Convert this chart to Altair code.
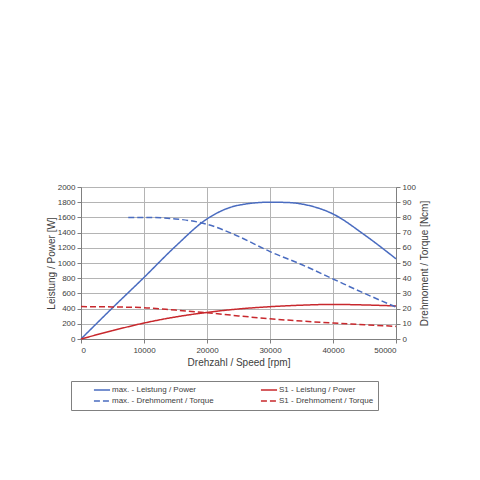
import altair as alt
import pandas as pd

# max. - Leistung / Power [W]
max_pow_rpm = [0, 5000, 10000, 15000, 20000, 25000, 30000, 33000, 36000, 40000, 45000, 50000]
max_pow_w = [0, 410, 810, 1220, 1580, 1760, 1800, 1795, 1760, 1645, 1370, 1055]

# max. - Drehmoment / Torque [Ncm]
max_tq_rpm = [7500, 10000, 15000, 20000, 25000, 30000, 35000, 40000, 45000, 50000]
max_tq_ncm = [80, 80, 79, 75.5, 67.5, 57.5, 49, 39.5, 30, 21]

# S1 - Leistung / Power [W]
s1_pow_rpm = [0, 5000, 10000, 15000, 20000, 25000, 30000, 35000, 40000, 45000, 50000]
s1_pow_w = [0, 110, 210, 290, 350, 395, 425, 445, 455, 448, 435]

# S1 - Drehmoment / Torque [Ncm]
s1_tq_rpm = [0, 5000, 10000, 15000, 20000, 25000, 30000, 35000, 40000, 45000, 50000]
s1_tq_ncm = [21.3, 21.1, 20.6, 19.0, 17.3, 15.2, 13.3, 11.8, 10.5, 9.4, 8.3]

names = ["max. - Leistung / Power", "max. - Drehmoment / Torque",
         "S1 - Leistung / Power", "S1 - Drehmoment / Torque"]
colors = ["#4a6cc0", "#4a6cc0", "#c8282d", "#c8282d"]
dashes = [[1, 0], [6, 3], [1, 0], [6, 3]]

power = pd.concat([
    pd.DataFrame({"rpm": max_pow_rpm, "val": max_pow_w, "series": names[0], "o": range(len(max_pow_rpm))}),
    pd.DataFrame({"rpm": s1_pow_rpm, "val": s1_pow_w, "series": names[2], "o": range(len(s1_pow_rpm))}),
])
torque = pd.concat([
    pd.DataFrame({"rpm": max_tq_rpm, "val": max_tq_ncm, "series": names[1], "o": range(len(max_tq_rpm))}),
    pd.DataFrame({"rpm": s1_tq_rpm, "val": s1_tq_ncm, "series": names[3], "o": range(len(s1_tq_rpm))}),
])

FONT = "Liberation Sans"
TXT = "#404040"

x_enc = alt.X("rpm:Q", scale=alt.Scale(domain=[0, 50000], nice=False),
              axis=alt.Axis(values=[0, 10000, 20000, 30000, 40000, 50000], format="d",
                            title="Drehzahl / Speed [rpm]", labelFontSize=8, titleFontSize=10,
                            titleFontWeight="normal", labelColor=TXT, titleColor=TXT,
                            domainColor="#808080", tickColor="#808080", tickSize=4,
                            labelPadding=3, titlePadding=3, gridColor="#b4b4b4", labelFont=FONT,
                            titleFont=FONT))

color_enc = alt.Color("series:N", scale=alt.Scale(domain=names, range=colors),
                      legend=alt.Legend(title=None, orient="none", legendX=-10, legendY=194,
                                        columns=2, columnPadding=28, rowPadding=1,
                                        symbolType="stroke", symbolSize=260, symbolStrokeWidth=1.5,
                                        labelFontSize=8, labelColor=TXT, labelFont=FONT,
                                        strokeColor="#808080", padding=4, labelOffset=1,
                                        clipHeight=10, symbolOffset=18,
                                        fillColor="white"))
dash_enc = alt.StrokeDash("series:N", scale=alt.Scale(domain=names, range=dashes), legend=None)

pow_layer = alt.Chart(power).mark_line(strokeWidth=1.5, interpolate="monotone").encode(
    x=x_enc,
    y=alt.Y("val:Q", scale=alt.Scale(domain=[0, 2000], nice=False),
            axis=alt.Axis(values=list(range(0, 2001, 200)), format="d", title="Leistung / Power [W]",
                          labelFontSize=8, titleFontSize=10, titleFontWeight="normal",
                          labelColor=TXT, titleColor=TXT, domainColor="#808080",
                          tickColor="#808080", tickSize=4, labelPadding=2, titlePadding=1,
                          gridColor="#b4b4b4", labelFont=FONT, titleFont=FONT)),
    color=color_enc,
    strokeDash=dash_enc,
    order="o:Q",
)

tq_layer = alt.Chart(torque).mark_line(strokeWidth=1.5, interpolate="monotone").encode(
    x=x_enc,
    y=alt.Y("val:Q", scale=alt.Scale(domain=[0, 100], nice=False),
            axis=alt.Axis(values=list(range(0, 101, 10)), orient="right",
                          title="Drehmoment / Torque [Ncm]", grid=False, titleAngle=270,
                          labelFontSize=8, titleFontSize=10, titleFontWeight="normal",
                          labelColor=TXT, titleColor=TXT, domainColor="#808080",
                          tickColor="#808080", tickSize=4, labelPadding=2, titlePadding=14,
                          labelFont=FONT, titleFont=FONT)),
    color=color_enc,
    strokeDash=dash_enc,
    order="o:Q",
)

chart = alt.layer(pow_layer, tq_layer).resolve_scale(y="independent").properties(
    width=315, height=152,
    autosize=alt.AutoSizeParams(type="none"),
    padding={"left": 73, "top": 179, "right": 60, "bottom": 110},
).configure_view(stroke="#b4b4b4")

chart.save("out.html", embed_options={"renderer": "svg", "actions": False})
